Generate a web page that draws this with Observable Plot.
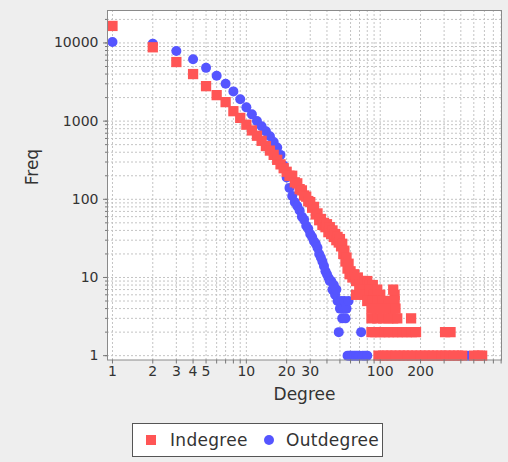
<!DOCTYPE html>
<html><head><meta charset="utf-8">
<script src="https://cdn.jsdelivr.net/npm/d3@7"></script>
<script src="https://cdn.jsdelivr.net/npm/@observablehq/plot@0.6"></script>
<style>
html,body{margin:0;padding:0;background:#eeeeee;width:508px;height:462px;overflow:hidden;font-family:"DejaVu Sans",sans-serif;}
#chart{position:absolute;left:0;top:0;}
#legend{position:absolute;left:132px;top:423px;width:249px;height:32px;border:1px solid #555;background:#fff;font-size:17px;color:#333;}
#legend .sw{position:absolute;top:11px;width:10px;height:10px;}
#legend .lab{position:absolute;top:5px;line-height:22px;letter-spacing:0.3px;}
</style>
</head><body>
<div id="chart"></div>
<div id="legend"></div>
<script>
// Indegree series (degree, frequency)
const inDegree = [1,2,3,4,5,6,7,8,9,10,11,12,13,14,15,16,17,18,19,20,21,22,23,24,25,26,27,28,29,30,31,32,33,34,35,36,37,38,
  39,40,41,42,43,44,45,46,47,48,49,50,51,52,53,54,55,56,57,58,59,60,62,64,66,68,70,72,74,76,78,80,84,88,
  66,70,72,78,84,90,95,100,125,128,
  80,88,96,105,115,128,
  86,92,100,110,120,130,
  86,95,105,115,125,134,170,
  86,92,100,108,116,125,135,146,158,172,185,305,335,
  97,105,113,121,130,140,150,161,173,186,200,215,231,248,266,286,307,330,355,382,409,503,540,577];
const inFreq = [16500,8800,5700,4000,2800,2150,1750,1340,1100,900,760,650,560,480,420,370,320,280,250,225,200,200,165,160,135,130,112,108,95,92,78,80,64,66,54,56,47,50,
  44,48,38,44,36,40,33,36,30,33,28,31,25,27,20,22,16,18,13,15,11,12,10,11,9,10,8,9,8,9,8,9,8,8,
  6,7,7,6,7,6,7,6,7,6,
  5,5,5,5,5,5,
  4,4,4,4,4,4,
  3,3,3,3,3,3,3,
  2,2,2,2,2,2,2,2,2,2,2,2,2,
  1,1,1,1,1,1,1,1,1,1,1,1,1,1,1,1,1,1,1,1,1,1,1,1];
// Outdegree series (degree, frequency)
const outDegree = [1,2,3,4,5,6,7,8,9,10,11,12,13,14,15,16,17,18,19,20,21,22,23,24,25,26,27,28,29,30,31,32,33,34,35,36,37,38,39,40,
  41,42,43,44,45,46,47,48,49,50,51,52,53,54,55,56,57,58,59,60,62,64,66,68,70,72,74,77,80,454];
const outFreq = [10300,9800,7900,6200,4800,3800,3000,2400,1900,1500,1220,1000,860,740,640,540,460,370,270,190,140,110,92,82,72,60,55,46,42,36,33,29,27,24,20,18,16,14,12,11,
  10,9,9,7,8,6,7,5,2,4,5,3,4,5,3,4,1,5,1,1,1,1,1,1,1,2,1,1,1,1];

const seriesNames = ["Indegree","Outdegree"];
const seriesColors = ["#ff5555","#5555ff"];
const xTickLabels = [1,2,3,4,5,10,20,30,100,200];
const yTickLabels = [1,10,100,1000,10000];

const inData = inDegree.map((d,i)=>({degree:d, freq:inFreq[i]}));
const outData = outDegree.map((d,i)=>({degree:d, freq:outFreq[i]}));

const xDomain=[0.918,805], yDomain=[0.88,26000];
const minor = (lo,hi)=>{const a=[];for(let p=1;p<=1e5;p*=10)for(let m=1;m<10;m++){const v=m*p;if(v>=lo&&v<=hi)a.push(v);}return a;};
const xGrid = minor(1,800), yGrid = minor(1,25000);

const plot = Plot.plot({
  width:508, height:412,
  marginLeft:107, marginRight:7, marginTop:10, marginBottom:52.5,
  style:{fontFamily:"DejaVu Sans, sans-serif", fontSize:"14px", background:"transparent", color:"#333"},
  x:{type:"log", domain:xDomain},
  y:{type:"log", domain:yDomain},
  marks:[
    Plot.frame({fill:"#ffffff", stroke:"none"}),
    Plot.ruleX(xGrid,{stroke:"#c4c4c4", strokeDasharray:"2,2", strokeWidth:1}),
    Plot.ruleY(yGrid,{stroke:"#c4c4c4", strokeDasharray:"2,2", strokeWidth:1}),
    Plot.dot(outData,{x:"degree", y:"freq", r:5, fill:seriesColors[1], stroke:"none"}),
    Plot.dot(inData,{x:"degree", y:"freq", symbol:"square", r:5.8, fill:seriesColors[0], stroke:"none"}),
    Plot.frame({stroke:"#8a8a8a"}),
    Plot.axisX({ticks:xGrid, tickFormat:()=>"", tickSize:4, label:null, stroke:"#777"}),
    Plot.text(xTickLabels,{x:d=>d, frameAnchor:"bottom", dy:16, fontSize:14, fill:"#333"}),
    Plot.axisY({ticks:yTickLabels, tickFormat:d=>String(d), tickSize:4, tickPadding:5, label:null, stroke:"#777"}),
    Plot.axisY({ticks:yGrid, tickFormat:()=>"", tickSize:2, label:null, stroke:"#777"}),
    Plot.text(["Degree"],{frameAnchor:"bottom", dy:40, fontSize:17, fill:"#333"}),
    Plot.text(["Freq"],{frameAnchor:"left", dx:-75, rotate:-90, fontSize:17, fill:"#333"})
  ]
});
document.getElementById("chart").appendChild(plot);

const lg = document.getElementById("legend");
const pos = [[13,37],[131,153]];
seriesNames.forEach((n,i)=>{
  const sw=document.createElement("div"); sw.className="sw";
  sw.style.left=pos[i][0]+"px"; sw.style.background=seriesColors[i];
  if(i===1) sw.style.borderRadius="50%";
  const t=document.createElement("div"); t.className="lab"; t.style.left=pos[i][1]+"px"; t.textContent=n;
  lg.appendChild(sw); lg.appendChild(t);
});
</script>
</body></html>
